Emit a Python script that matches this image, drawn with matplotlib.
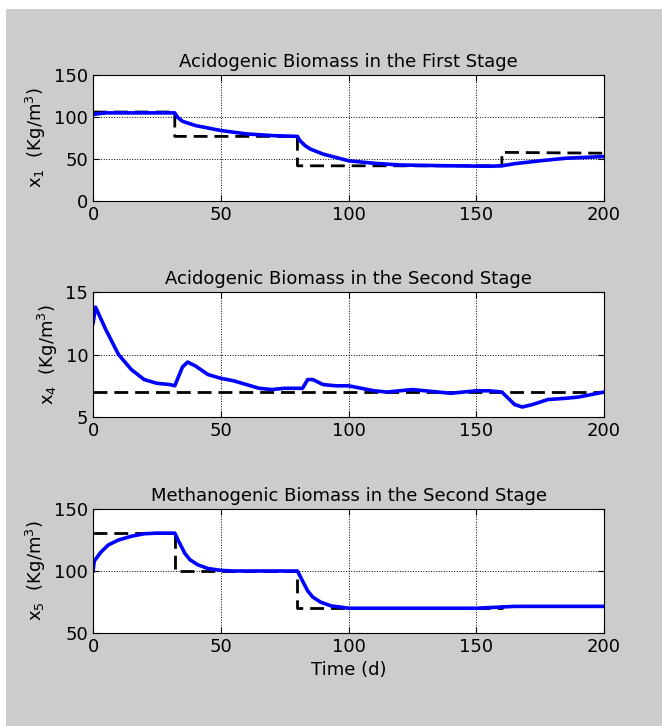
import matplotlib
matplotlib.use("Agg")
import matplotlib.pyplot as plt
from matplotlib.patches import Rectangle

plt.rcParams['font.family'] = ['DejaVu Sans']
plt.rcParams['mathtext.fontset'] = 'dejavusans'

# setpoints (step profiles)
sp_t = [0, 32, 32, 80, 80, 160, 160, 200]
sp_x1 = [106, 106, 77, 77, 42, 42, 58, 57]
sp_x4_t = [0, 200]
sp_x4 = [7, 7]
sp_x5 = [131, 131, 100, 100, 70, 70, 72, 72]

# x1 response
t1 = [0, 2, 5, 32, 33, 35, 40, 45, 50, 60, 70, 80, 81, 83, 85, 90, 95, 100, 110, 120, 140, 155, 160, 165, 175, 185, 200]
x1 = [103, 104, 105, 105, 100, 95, 90, 87, 84, 80, 78, 77, 72, 66, 62, 56, 52, 48, 45, 43, 42, 41.5, 42, 44.5, 48, 51, 53]

# x4 response
t4 = [0, 1, 5, 10, 15, 20, 25, 30, 32, 35, 37, 40, 45, 50, 55, 60, 65, 70, 75, 80, 82, 84, 86, 90, 95, 100, 105, 110,
      115, 120, 125, 130, 135, 140, 145, 150, 155, 160, 162, 165, 168, 172, 178, 185, 190, 195, 200]
x4 = [12.5, 13.8, 12.0, 10.0, 8.8, 8.0, 7.7, 7.6, 7.5, 9.0, 9.4, 9.1, 8.4, 8.1, 7.9, 7.6, 7.3, 7.2, 7.3, 7.3, 7.3, 8.0,
      8.0, 7.6, 7.5, 7.5, 7.3, 7.1, 7.0, 7.1, 7.2, 7.1, 7.0, 6.9, 7.0, 7.1, 7.1, 7.0, 6.6, 6.0, 5.8, 6.0, 6.4, 6.5, 6.6,
      6.8, 7.0]

# x5 response
t5 = [0, 0.5, 3, 6, 10, 15, 20, 25, 32, 34, 36, 38, 41, 45, 50, 55, 80, 82, 84, 86, 89, 93, 100, 120, 150, 160, 165, 200]
x5 = [100, 108, 115, 121, 125, 128, 130, 130.5, 130.5, 122, 114, 109, 105, 102, 100.5, 100, 100, 92, 84, 79, 75, 72,
      70, 70, 70, 71, 71.5, 71.5]

titles = ["Acidogenic Biomass in the First Stage",
          "Acidogenic Biomass in the Second Stage",
          "Methanogenic Biomass in the Second Stage"]
ylabels = [r"x$_1$  (Kg/m$^3$)", r"x$_4$  (Kg/m$^3$)", r"x$_5$  (Kg/m$^3$)"]
ylims = [(0, 150), (5, 15), (50, 150)]
yticks = [[0, 50, 100, 150], [5, 10, 15], [50, 100, 150]]

fig = plt.figure(figsize=(6.62, 7.26), dpi=100, facecolor='white')
fig.patches.append(Rectangle((6 / 662, 0), 1, (726 - 9) / 726, transform=fig.transFigure,
                             facecolor='#cccccc', edgecolor='none', zorder=-10))

positions = [[0.1405, 0.723, 0.772, 0.1736],
             [0.1405, 0.4256, 0.772, 0.172],
             [0.1405, 0.128, 0.772, 0.171]]

data = [(sp_t, sp_x1, t1, x1), (sp_x4_t, sp_x4, t4, x4), (sp_t, sp_x5, t5, x5)]

for i in range(3):
    ax = fig.add_axes(positions[i])
    st, sv, t, v = data[i]
    ax.plot(st, sv, color='black', linestyle=(0, (5, 2.5)), linewidth=2)
    ax.plot(t, v, color='blue', linewidth=2.6)
    ax.set_xlim(0, 200)
    ax.set_ylim(*ylims[i])
    ax.set_xticks([0, 50, 100, 150, 200])
    ax.set_yticks(yticks[i])
    ax.grid(True, color='black', linestyle=':', linewidth=0.7)
    ax.tick_params(direction='in', top=True, right=True, labelsize=13, length=4)
    ax.set_title(titles[i], fontsize=13)
    ax.set_ylabel(ylabels[i], fontsize=13)
    if i == 2:
        ax.set_xlabel("Time (d)", fontsize=13)

fig.savefig("out.png", dpi=100)
